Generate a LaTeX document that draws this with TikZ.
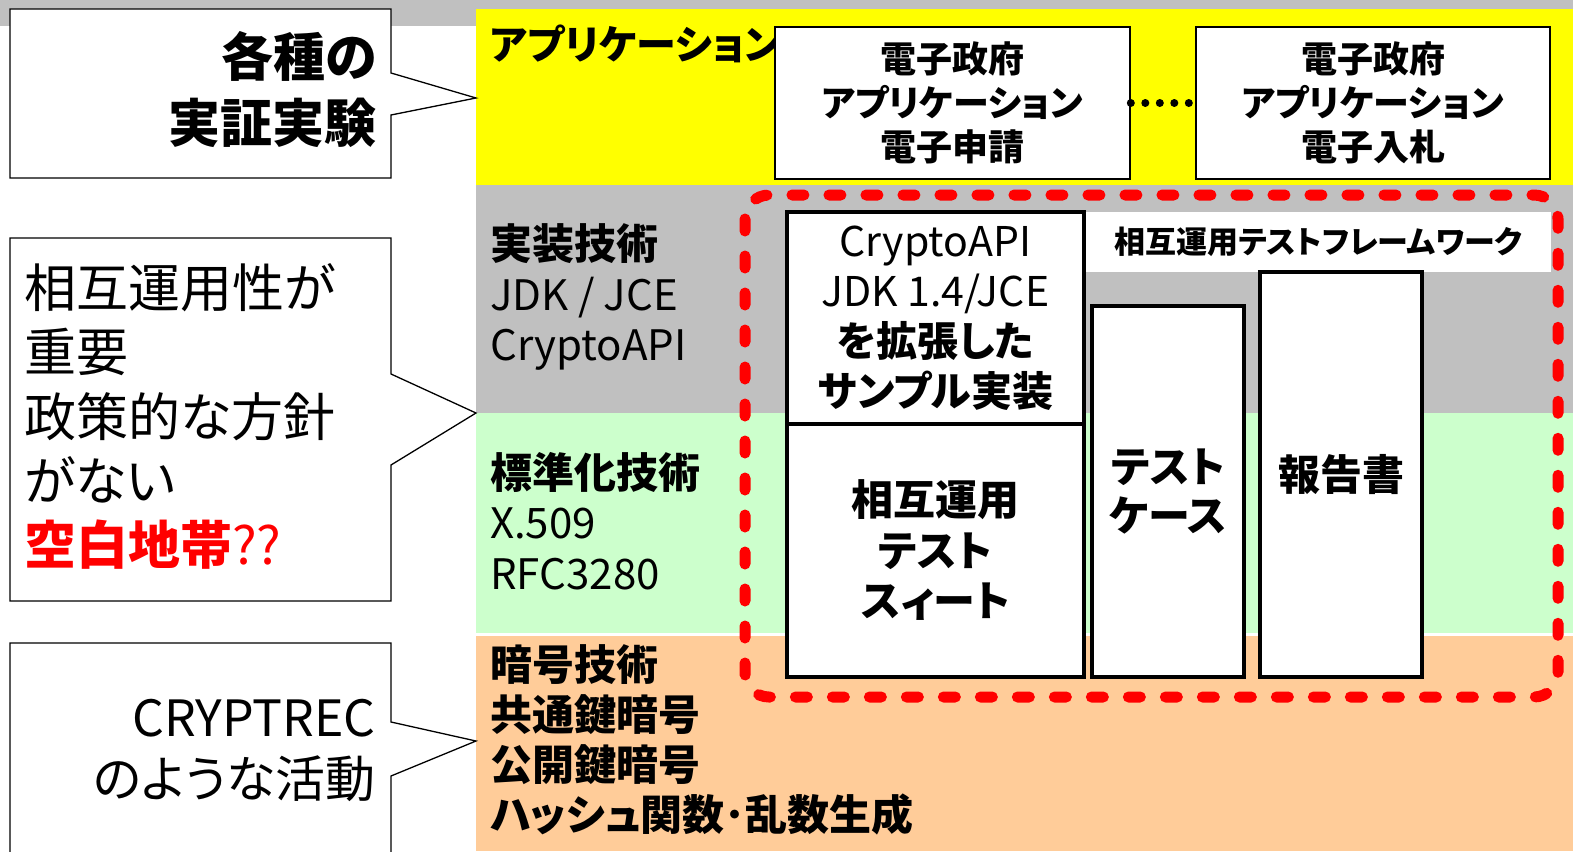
\documentclass[tikz,border=0pt]{standalone}
\usepackage{fontspec}
\setmainfont{Noto Sans CJK JP}[RawFeature=+palt]
\definecolor{topgray}{HTML}{C0C0C0}
\definecolor{bandyellow}{HTML}{FFFF00}
\definecolor{bandgray}{HTML}{C0C0C0}
\definecolor{bandgreen}{HTML}{CCFFCC}
\definecolor{bandpeach}{HTML}{FFCC99}
\definecolor{alertred}{HTML}{FF0000}
\tikzset{
  callout/.style={fill=white, draw=black, line width=1.3pt, line join=miter},
  layerlbl/.style={inner sep=0pt, anchor=west, align=left, font=\fontsize{42}{50.3}\selectfont},
  appbox/.style={draw=black, fill=white, line width=1.6pt, inner sep=0pt, align=center,
    font=\bfseries\fontsize{36}{44}\selectfont},
  techbox/.style={draw=black, fill=white, line width=3.5pt, inner sep=0pt, align=center,
    font=\fontsize{42}{50.3}\selectfont},
  fwlabel/.style={fill=white, inner sep=0pt, align=center, font=\bfseries\fontsize{31}{31}\selectfont},
  redframe/.style={draw=alertred, line width=11pt, line cap=round, dash pattern=on 12pt off 25pt,
    rounded corners=24pt},
  dotlink/.style={draw=black, line width=8pt, line cap=round, dash pattern=on 0pt off 14.5pt},
}
\begin{document}
\begin{tikzpicture}[x=1pt, y=-1pt]
\useasboundingbox (0,0) rectangle (1573,851);
% background bands
\fill[topgray] (0,0) rectangle (1573,26);
\fill[bandyellow] (476,9) rectangle (1573,185);
\fill[bandgray] (476,185) rectangle (1573,413);
\fill[bandgreen] (476,413) rectangle (1573,633);
\fill[bandpeach] (476,636) rectangle (1573,851);
% callouts
\path[callout] (10,9) -- (391,9) -- (391,73) -- (476,98) -- (391,115) -- (391,178) -- (10,178) -- cycle;
\path[callout] (10,238) -- (391,238) -- (391,374) -- (476,413) -- (391,465) -- (391,601) -- (10,601) -- cycle;
\fill[white] (10,855) -- (10,643) -- (391,643) -- (391,855) -- cycle;
\draw[line width=1.3pt, line join=miter] (10,855) -- (10,643) -- (391,643) -- (391,722) -- (476,741) -- (391,776) -- (391,855);
% callout texts
\node[inner sep=0pt, anchor=east, align=right, font=\bfseries\fontsize{52}{66}\selectfont] (ctxt1) at (377,90) {各種の\\実証実験};
\node[inner sep=0pt, anchor=west, align=left, font=\fontsize{52}{64.25}\selectfont] (ctxt2) at (24,416.5)
  {相互運用性が\\重要\\政策的な方針\\がない\\{\color{alertred}\bfseries 空白地帯}{\color{alertred}??}};
\node[inner sep=0pt, anchor=east, align=right, font=\fontsize{50}{61}\selectfont] (ctxt3) at (376,750) {CRYPTREC\\のような活動};
% layer labels
\node[layerlbl, font=\bfseries\fontsize{40}{40}\selectfont] (lapp) at (490,44) {アプリケーション};
\node[layerlbl] (limpl) at (490,297) {\textbf{実装技術}\\JDK / JCE\\CryptoAPI};
\node[layerlbl] (lstd) at (490,521) {\textbf{標準化技術}\\X.509\\RFC3280};
\node[layerlbl, font=\bfseries\fontsize{42}{50}\selectfont] (lcrypto) at (490,740) {暗号技術\\共通鍵暗号\\公開鍵暗号\\ハッシュ関数･乱数生成};
% application boxes
\node[appbox, minimum width=355pt, minimum height=152pt] (appA) at (952.5,103) {電子政府\\アプリケーション\\電子申請};
\node[appbox, minimum width=354pt, minimum height=152pt] (appB) at (1373,103) {電子政府\\アプリケーション\\電子入札};
\draw[dotlink] (appA.east) -- (appB.west);
% framework
\node[fwlabel, minimum width=465pt, minimum height=60pt] (fw) at (1318.5,242) {相互運用テストフレームワーク};
\node[techbox, minimum width=297pt, minimum height=212pt, font=\fontsize{41}{50}\selectfont] (impl) at (935.5,318)
  {CryptoAPI\\JDK 1.4/JCE\\\textbf{を拡張した}\\\textbf{サンプル実装}};
\node[techbox, minimum width=297pt, minimum height=253pt, font=\bfseries\fontsize{42}{50.5}\selectfont] (suite) at (935.5,550.5)
  {相互運用\\テスト\\スィート};
\node[techbox, minimum width=152pt, minimum height=371pt, font=\bfseries\fontsize{42}{49}\selectfont] (tcase) at (1168,491.5)
  {テスト\\ケース};
\node[techbox, minimum width=162pt, minimum height=405pt, font=\bfseries\fontsize{42}{42}\selectfont] (report) at (1341,474.5)
  {報告書};
\draw[redframe] (745,195) rectangle (1558,697);
\end{tikzpicture}
\end{document}
